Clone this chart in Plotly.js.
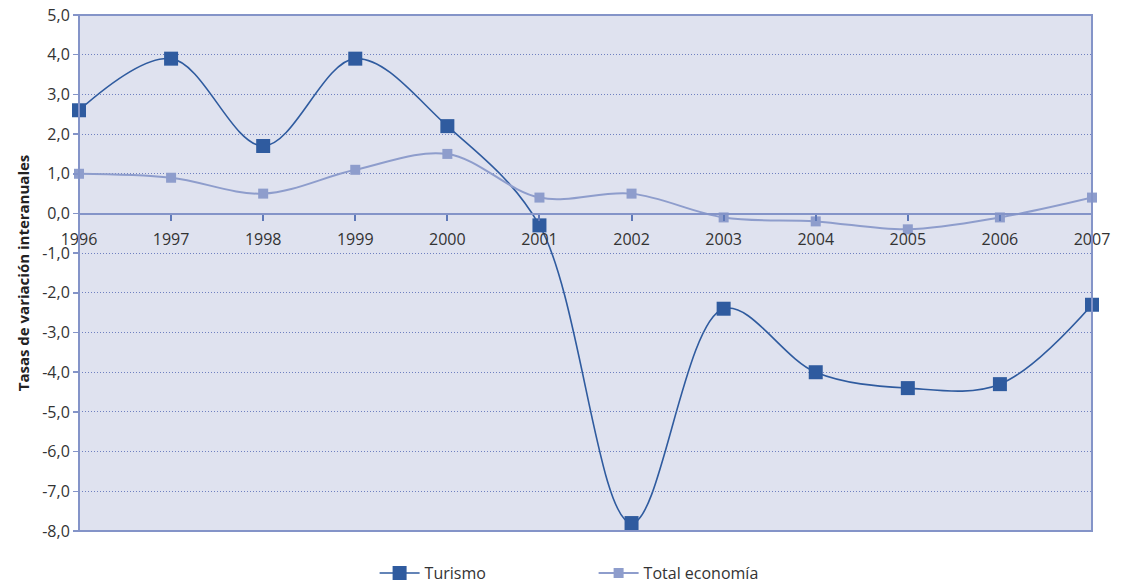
<!DOCTYPE html>
<html>
<head>
<meta charset="utf-8">
<script src="https://cdn.plot.ly/plotly-3.0.1.min.js"></script>
<style>html,body{margin:0;padding:0;background:#fff;}#chart{width:1125px;height:586px;}</style>
</head>
<body>
<div id="chart"></div>
<script>
const years = [1996, 1997, 1998, 1999, 2000, 2001, 2002, 2003, 2004, 2005, 2006, 2007];
const turismo = [2.6, 3.9, 1.7, 3.9, 2.2, -0.3, -7.8, -2.4, -4.0, -4.4, -4.3, -2.3];
const totalEconomia = [1.0, 0.9, 0.5, 1.1, 1.5, 0.4, 0.5, -0.1, -0.2, -0.4, -0.1, 0.4];
const yTickVals = [5, 4, 3, 2, 1, 0, -1, -2, -3, -4, -5, -6, -7, -8];
const yTickText = ["5,0", "4,0", "3,0", "2,0", "1,0", "0,0", "-1,0", "-2,0", "-3,0", "-4,0", "-5,0", "-6,0", "-7,0", "-8,0"];
const xTickText = years.map(String);

const font = "'Open Sans', 'Noto Sans', sans-serif";

const traces = [
  {
    x: years, y: turismo, name: 'Turismo', type: 'scatter', mode: 'lines+markers',
    line: {color: '#2f5b9f', width: 1.6, shape: 'spline', smoothing: 1},
    marker: {symbol: 'square', size: 14, color: '#2f5b9f'},
    cliponaxis: false
  },
  {
    x: years, y: totalEconomia, name: 'Total economía', type: 'scatter', mode: 'lines+markers',
    line: {color: '#8e9dcc', width: 2, shape: 'spline', smoothing: 1},
    marker: {symbol: 'square', size: 10, color: '#8e9dcc'},
    cliponaxis: false
  }
];

const layout = {
  width: 1125, height: 586,
  margin: {l: 79, r: 33, t: 15, b: 55},
  paper_bgcolor: '#ffffff',
  plot_bgcolor: '#dfe2ef',
  font: {family: font, size: 16, color: '#333333'},
  showlegend: true,
  legend: {
    orientation: 'h', x: 0.508, xanchor: 'center', yref: 'container', y: 0.022, yanchor: 'middle',
    font: {family: font, size: 16, color: '#333333'},
    itemwidth: 40, entrywidth: 164
  },
  xaxis: {
    range: [1996, 2007],
    tickvals: years, ticktext: xTickText,
    anchor: 'free', position: 8 / 13,
    showline: true, linecolor: '#8494c8', linewidth: 1.5,
    ticks: 'outside', ticklen: 6, tickcolor: '#5f79b8', tickwidth: 2,
    ticklabelstandoff: 5,
    showgrid: false, zeroline: false,
    tickfont: {family: font, size: 16, color: '#333333'}
  },
  yaxis: {
    range: [-8, 5],
    tickvals: yTickVals, ticktext: yTickText,
    showgrid: true, gridcolor: '#6f80c0', griddash: '1px,2px', gridwidth: 1,
    zeroline: false,
    ticks: 'outside', ticklen: 5, tickcolor: '#8494c8', tickwidth: 1.5,
    tickfont: {family: font, size: 16, color: '#333333'},
    title: {text: '<b>Tasas de variación interanuales</b>', font: {family: font, size: 15, color: '#222222'}, standoff: 8}
  },
  shapes: [
    {type: 'rect', xref: 'paper', yref: 'paper', x0: 0, x1: 1, y0: 0, y1: 1,
     line: {color: '#8494c8', width: 2}, layer: 'above'}
  ]
};

Plotly.newPlot('chart', traces, layout, {displayModeBar: false, staticPlot: true});
</script>
</body>
</html>
